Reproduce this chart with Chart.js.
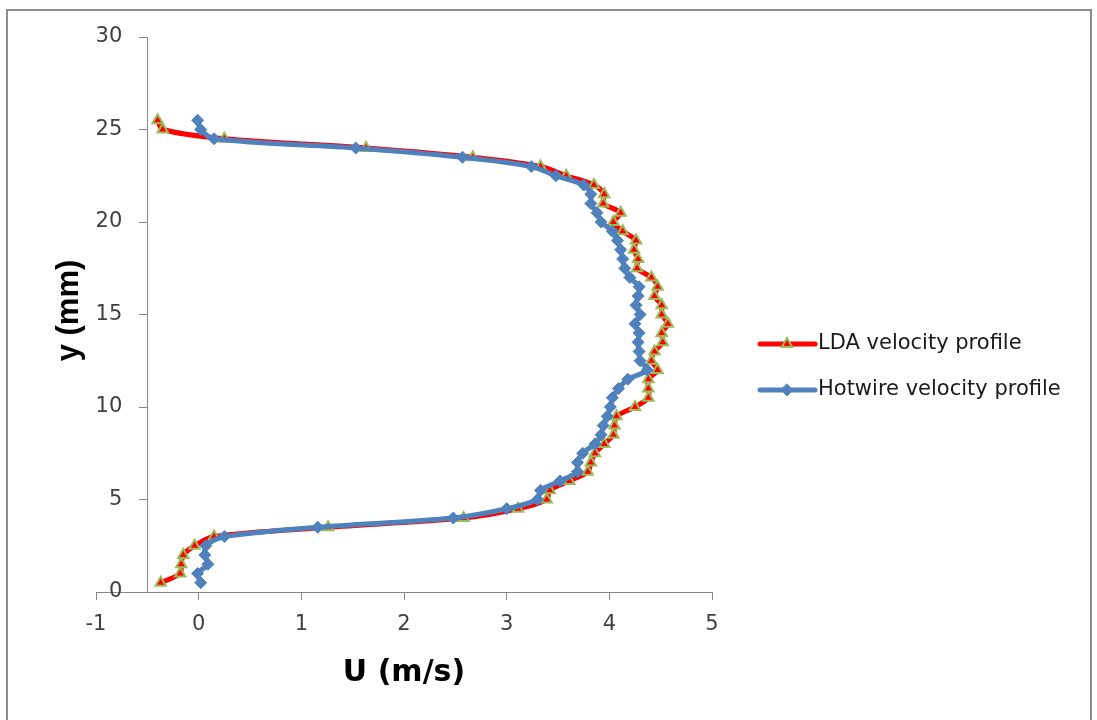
<!DOCTYPE html>
<html>
<head>
<meta charset="utf-8">
<title>Perfil de velocidade</title>
<script src="https://cdn.jsdelivr.net/npm/chart.js@4.4.1/dist/chart.umd.min.js"></script>
<style>
  html, body { margin: 0; padding: 0; background: #fff; }
  #wrap { width: 1097px; height: 720px; }
</style>
</head>
<body>
<div id="wrap"><canvas id="perfil" width="1097" height="720"></canvas></div>
<script>
// posição ao longo do canal (mm) — mesma para as duas medições
const posY = [
  0.5, 1, 1.5, 2, 2.5, 3, 3.5, 4, 4.5, 5, 5.5, 6, 6.5, 7, 7.5, 8, 8.5,
  9, 9.5, 10, 10.5, 11, 11.5, 12, 12.5, 13, 13.5, 14, 14.5, 15, 15.5, 16, 16.5,
  17, 17.5, 18, 18.5, 19, 19.5, 20, 20.5, 21, 21.5, 22, 22.5, 23, 23.5, 24, 24.5,
  25, 25.5
];

// velocidade U (m/s) medida por LDA
const uLda = [
  -0.37, -0.18, -0.17, -0.15, -0.04, 0.15, 1.26, 2.58, 3.11, 3.39, 3.42, 3.61, 3.79, 3.82, 3.86, 3.95, 4.04,
  4.05, 4.07, 4.25, 4.38, 4.38, 4.38, 4.47, 4.41, 4.44, 4.52, 4.51, 4.57, 4.51, 4.51, 4.44, 4.47,
  4.41, 4.27, 4.28, 4.24, 4.26, 4.13, 4.04, 4.11, 3.94, 3.95, 3.85, 3.58, 3.33, 2.67, 1.63, 0.25,
  -0.35, -0.40
];

// velocidade U (m/s) medida por fio quente
const uHotwire = [
  0.02, -0.01, 0.09, 0.06, 0.07, 0.25, 1.16, 2.48, 3.00, 3.30, 3.33, 3.52, 3.69, 3.69, 3.74, 3.86, 3.92,
  3.94, 3.98, 4.01, 4.03, 4.09, 4.18, 4.37, 4.30, 4.29, 4.28, 4.29, 4.25, 4.30, 4.26, 4.28, 4.29,
  4.20, 4.15, 4.13, 4.11, 4.08, 4.03, 3.92, 3.88, 3.82, 3.82, 3.75, 3.48, 3.24, 2.57, 1.53, 0.15,
  0.02, -0.01
];

const nomes = ['LDA velocity profile', 'Hotwire velocity profile'];
const eixoX = { min: -1, max: 5, passo: 1, titulo: 'U (m/s)' };
const eixoY = { min: 0, max: 30, passo: 5, titulo: 'y (mm)', cruzaEm: -0.5 };

const pontos = (us) => us.map((u, i) => ({ x: u, y: posY[i] }));

const CINZA = '#868686';
const TEXTO = '#404040';
const fonteTicks = { family: '"DejaVu Sans"', size: 21 };

// desenha o marcador da série (triângulo ou losango) na legenda
function marcador(ctx, ds, x, y) {
  const r = ds.pointRadius;
  ctx.beginPath();
  if (ds.pointStyle === 'triangle') {
    for (let k = 0; k < 3; k++) {
      const a = -Math.PI / 2 + k * 2 * Math.PI / 3;
      const px = x + Math.cos(a) * r, py = y + Math.sin(a) * r;
      k ? ctx.lineTo(px, py) : ctx.moveTo(px, py);
    }
  } else {
    ctx.moveTo(x, y - r); ctx.lineTo(x + r, y); ctx.lineTo(x, y + r); ctx.lineTo(x - r, y);
  }
  ctx.closePath();
  ctx.fillStyle = ds.pointBackgroundColor;
  ctx.fill();
  ctx.lineWidth = ds.pointBorderWidth;
  ctx.strokeStyle = ds.pointBorderColor;
  ctx.stroke();
}

const moldura = {
  id: 'moldura',
  beforeDraw(chart) {
    const ctx = chart.ctx;
    ctx.save();
    ctx.fillStyle = '#fff';
    ctx.fillRect(0, 0, chart.width, chart.height);
    ctx.strokeStyle = '#8c8c8c';
    ctx.lineWidth = 2;
    ctx.strokeRect(7, 10, 1084, 740);
    ctx.restore();
  },
  // rótulos do eixo y: o eixo cruza em U = -0.5, então ficam à esquerda das marcas
  beforeDatasetsDraw(chart) {
    const ctx = chart.ctx;
    const sy = chart.scales.y;
    const xEixo = chart.scales.x.getPixelForValue(eixoY.cruzaEm);
    ctx.save();
    ctx.font = `${fonteTicks.size}px ${fonteTicks.family}`;
    ctx.fillStyle = TEXTO;
    ctx.textAlign = 'right';
    ctx.textBaseline = 'middle';
    sy.ticks.forEach(t => ctx.fillText(String(t.value), xEixo - 25, sy.getPixelForValue(t.value)));
    ctx.restore();
  },
  afterDraw(chart) {
    const ctx = chart.ctx;
    const area = chart.chartArea;
    ctx.save();
    // título do eixo vertical
    ctx.translate(69, (area.top + area.bottom) / 2 - 4);
    ctx.rotate(-Math.PI / 2);
    ctx.font = 'bold 31px "Liberation Sans"';
    ctx.fillStyle = '#000';
    ctx.textAlign = 'center';
    ctx.textBaseline = 'middle';
    ctx.fillText(eixoY.titulo, 0, 0);
    ctx.restore();

    // legenda: LDA primeiro, fio quente depois
    ctx.save();
    const x0 = area.right + 48;
    [1, 0].forEach((idx, n) => {
      const ds = chart.data.datasets[idx];
      const y = 344 + n * 46;
      ctx.beginPath();
      ctx.moveTo(x0, y);
      ctx.lineTo(x0 + 55, y);
      ctx.lineWidth = ds.borderWidth;
      ctx.strokeStyle = ds.borderColor;
      ctx.lineCap = 'round';
      ctx.stroke();
      marcador(ctx, ds, x0 + 27, y);
      ctx.font = '21px "DejaVu Sans"';
      ctx.fillStyle = '#1a1a1a';
      ctx.textAlign = 'left';
      ctx.textBaseline = 'middle';
      ctx.fillText(ds.label, x0 + 58, y);
    });
    ctx.restore();
  }
};

new Chart(document.getElementById('perfil').getContext('2d'), {
  type: 'scatter',
  data: {
    datasets: [
      {
        label: nomes[1],
        data: pontos(uHotwire),
        showLine: true,
        tension: 0.3,
        borderColor: '#4F81BD',
        borderWidth: 5,
        pointStyle: 'rectRot',
        pointRadius: 6,
        pointBackgroundColor: '#4F81BD',
        pointBorderColor: '#4F81BD',
        pointBorderWidth: 1
      },
      {
        label: nomes[0],
        data: pontos(uLda),
        showLine: true,
        tension: 0.3,
        borderColor: '#FF0000',
        borderWidth: 5,
        pointStyle: 'triangle',
        pointRadius: 6,
        pointBackgroundColor: '#FF0000',
        pointBorderColor: '#9BBB59',
        pointBorderWidth: 2
      }
    ]
  },
  options: {
    responsive: false,
    animation: false,
    devicePixelRatio: 1,
    layout: { padding: { left: 96, right: 385, top: 37, bottom: 0 } },
    plugins: { legend: { display: false }, tooltip: { enabled: false } },
    scales: {
      x: {
        type: 'linear',
        min: eixoX.min,
        max: eixoX.max,
        ticks: { stepSize: eixoX.passo, font: fonteTicks, color: TEXTO, padding: 12 },
        grid: { drawOnChartArea: false, drawTicks: true, tickLength: 8, color: CINZA },
        border: { display: true, color: CINZA, width: 1 },
        title: {
          display: true,
          text: eixoX.titulo,
          color: '#000',
          font: { family: '"DejaVu Sans"', size: 30, weight: 'bold' },
          padding: { top: 0, bottom: 29 }
        },
        afterFit(scale) { scale.height = 128; }
      },
      // eixo vertical com linha e marcas; os números vêm do plugin
      y: {
        type: 'linear',
        position: { x: eixoY.cruzaEm },
        min: eixoY.min,
        max: eixoY.max,
        ticks: { stepSize: eixoY.passo, display: false },
        grid: { drawOnChartArea: false, drawTicks: true, tickLength: 8, color: CINZA },
        border: { display: true, color: CINZA, width: 1 }
      }
    }
  },
  plugins: [moldura]
});
</script>
</body>
</html>
